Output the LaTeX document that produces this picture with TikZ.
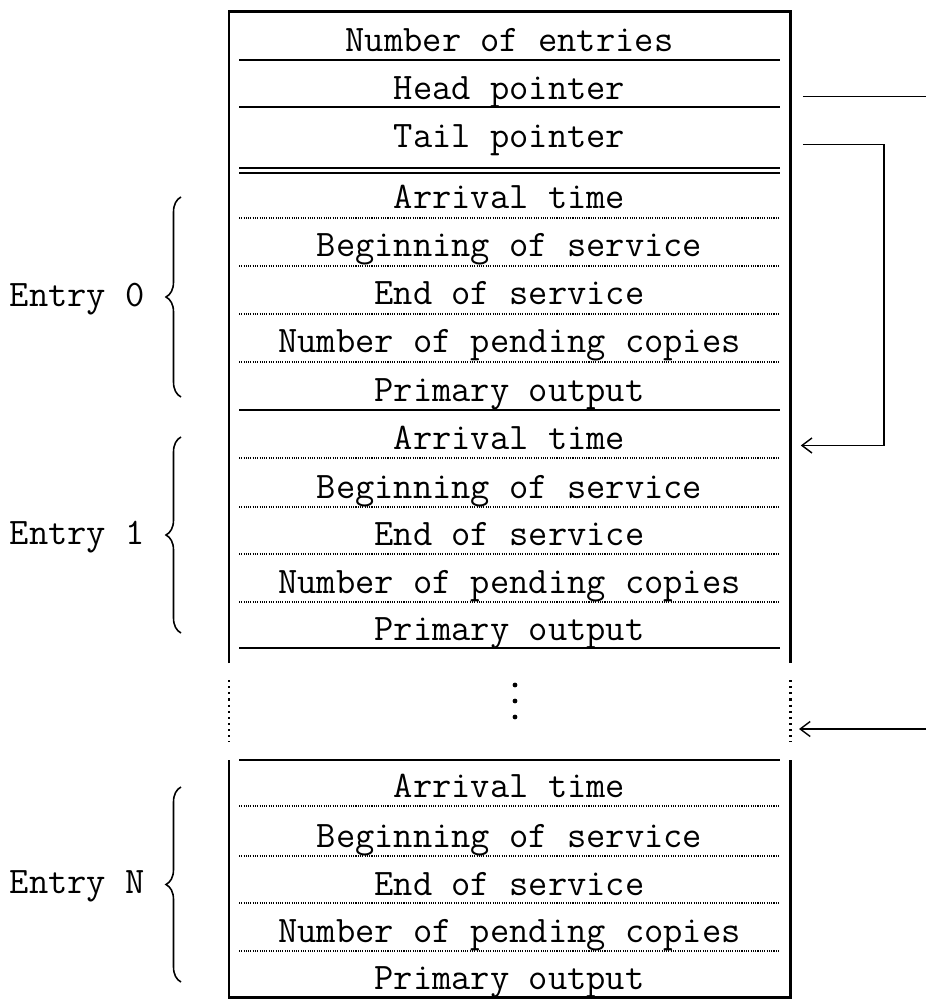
\documentclass[tikz,border=0pt]{standalone}
\usepackage{fontspec}
\usetikzlibrary{arrows.meta,decorations.pathreplacing,positioning}

\newcommand{\fieldfont}{\ttfamily\fontsize{21.3}{25}\selectfont}

\tikzset{
  field/.style={font=\fieldfont, inner sep=0pt, minimum width=11.24cm,
    text height=0.6em, text depth=0.2em, anchor=base},
  entrylabel/.style={font=\fieldfont, inner sep=0pt, text height=0.6em, text depth=0.2em},
  wall/.style={line width=1.7pt},
  solidsep/.style={line width=1.1pt},
  dotsep/.style={line width=0.6pt, dash pattern=on 0.6pt off 0.7pt},
  pointer/.style={line width=0.8pt, -{Straight Barb[length=0.2cm,width=0.3cm]}},
  entrybrace/.style={line width=0.9pt, decorate, decoration={brace, amplitude=0.3cm}}
}

\begin{document}
\begin{tikzpicture}[x=0.02cm, y=-0.02cm]
\useasboundingbox (0,0) rectangle (926,999);

% Outer walls
\draw[wall] (229,663) -- (229,12) -- (790,12) -- (790,663);
\draw[wall] (229,760) -- (229,997) -- (790,997) -- (790,760);
\draw[wall, dash pattern=on 1.2pt off 2.3pt] (229,680) -- (229,742);
\draw[wall, dash pattern=on 1.2pt off 2.3pt] (790,680) -- (790,742);

% Header fields
\node[field] (count) at (509.5,52) {Number of entries};
\node[field] (head) at (509.5,100) {Head pointer};
\node[field] (tail) at (509.5,148) {Tail pointer};

% Entry 0
\node[field] (arr0) at (509.5,209) {Arrival time};
\node[field] (beg0) at (509.5,257) {Beginning of service};
\node[field] (end0) at (509.5,305) {End of service};
\node[field] (pend0) at (509.5,353) {Number of pending copies};
\node[field] (out0) at (509.5,401) {Primary output};

% Entry 1
\node[field] (arr1) at (509.5,449) {Arrival time};
\node[field] (beg1) at (509.5,498) {Beginning of service};
\node[field] (end1) at (509.5,545) {End of service};
\node[field] (pend1) at (509.5,593) {Number of pending copies};
\node[field] (out1) at (509.5,640) {Primary output};

% Entry N
\node[field] (arrN) at (509.5,797) {Arrival time};
\node[field] (begN) at (509.5,847) {Beginning of service};
\node[field] (endN) at (509.5,895) {End of service};
\node[field] (pendN) at (509.5,942) {Number of pending copies};
\node[field] (outN) at (509.5,989) {Primary output};

% Separators
\draw[solidsep] (239,60) -- (780,60);
\draw[solidsep] (239,107) -- (780,107);
\draw[line width=0.8pt] (239,168) -- (780,168);
\draw[line width=0.8pt] (239,173) -- (780,173);

\draw[dotsep] (239,218) -- (780,218);
\draw[dotsep] (239,266) -- (780,266);
\draw[dotsep] (239,314) -- (780,314);
\draw[dotsep] (239,362) -- (780,362);
\draw[solidsep] (239,410) -- (780,410);

\draw[dotsep] (239,458) -- (780,458);
\draw[dotsep] (239,507) -- (780,507);
\draw[dotsep] (239,554) -- (780,554);
\draw[dotsep] (239,602) -- (780,602);
\draw[solidsep] (239,648) -- (780,648);

\draw[solidsep] (239,760) -- (780,760);
\draw[dotsep] (239,806) -- (780,806);
\draw[dotsep] (239,856) -- (780,856);
\draw[dotsep] (239,903) -- (780,903);
\draw[dotsep] (239,951) -- (780,951);

% Gap between entries
\fill (515,685) circle (2.4);
\fill (515,701) circle (2.4);
\fill (515,717) circle (2.4);

% Braces and entry labels
\draw[entrybrace] (181,397) -- (181,197);
\draw[entrybrace] (181,633) -- (181,437);
\draw[entrybrace] (181,982) -- (181,787);
\coordinate (tip0) at (166,297);
\coordinate (tip1) at (166,535);
\coordinate (tipN) at (166,884);
\node[entrylabel, left=0.42cm of tip0, yshift=-0.12cm] (lab0) {Entry 0};
\node[entrylabel, left=0.42cm of tip1, yshift=-0.12cm] (lab1) {Entry 1};
\node[entrylabel, left=0.42cm of tipN, yshift=-0.12cm] (labN) {Entry N};

% Pointers
\coordinate (rim) at (926,0);
\coordinate (gapR) at (790,729);
\draw[line width=0.8pt] ([xshift=0.24cm]head.east) -- (head.east -| rim);
\draw[pointer] ([xshift=0.24cm]tail.east) -- ++(81,0) |- ([xshift=0.2cm]arr1.east);
\draw[pointer] (gapR -| rim) -- ([xshift=0.18cm]gapR);

\end{tikzpicture}
\end{document}
